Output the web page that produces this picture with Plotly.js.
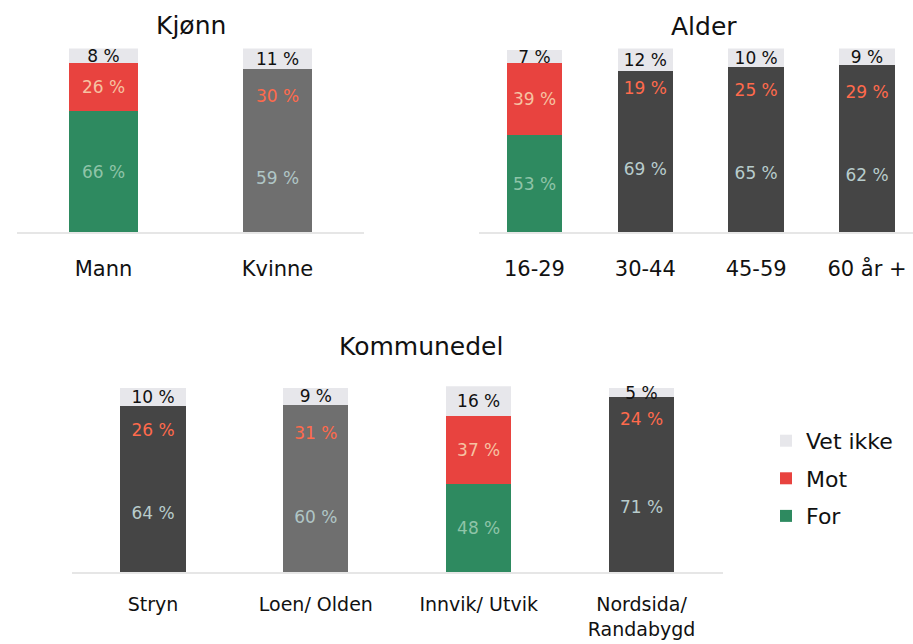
<!DOCTYPE html>
<html><head><meta charset="utf-8">
<script src="https://cdn.plot.ly/plotly-3.0.1.min.js"></script>
<style>html,body{margin:0;padding:0;background:#fff}#chart{width:913px;height:644px}</style>
</head><body><div id="chart"></div>
<script>
// ---- data ----
const seriesNames = ['For', 'Mot', 'Vet ikke'];
const panelTitles = ['Kjønn', 'Alder', 'Kommunedel'];

const kjonnCats = ['Mann', 'Kvinne'];
const kjonnFor = [66, 59];
const kjonnMot = [26, 30];
const kjonnVet = [8, 11];

const alderCats = ['16-29', '30-44', '45-59', '60 år +'];
const alderFor = [53, 69, 65, 62];
const alderMot = [39, 19, 25, 29];
const alderVet = [7, 12, 10, 9];

const kommCats = ['Stryn', 'Loen/ Olden', 'Innvik/ Utvik', 'Nordsida/<br>Randabygd'];
const kommFor = [64, 60, 48, 71];
const kommMot = [26, 31, 37, 24];
const kommVet = [10, 9, 16, 5];

// ---- styles ----
const kjonnFill = ['color', 'mid'];
const alderFill = ['color', 'dark', 'dark', 'dark'];
const kommFill = ['dark', 'mid', 'color', 'dark'];
const fills = {
  color: {For: '#2e8a60', Mot: '#e8433f', ForText: '#8fc4a8', MotText: '#f6c2a2'},
  mid:   {For: '#6f6f6f', Mot: '#6f6f6f', ForText: '#b0c6c6', MotText: '#ff6a4c'},
  dark:  {For: '#454545', Mot: '#454545', ForText: '#b8cccc', MotText: '#ff6a4c'}
};
const vetColor = '#e7e7eb';
const font = '"DejaVu Sans", sans-serif';

const panels = [
  {cats: kjonnCats, f: kjonnFor, m: kjonnMot, v: kjonnVet, fill: kjonnFill, xa: 'x', ya: 'y', w: 0.4},
  {cats: alderCats, f: alderFor, m: alderMot, v: alderVet, fill: alderFill, xa: 'x2', ya: 'y2', w: 0.5},
  {cats: kommCats, f: kommFor, m: kommMot, v: kommVet, fill: kommFill, xa: 'x3', ya: 'y3', w: 0.4}
];

const traces = [];
panels.forEach((p, i) => {
  const base = {
    type: 'bar', x: p.cats, xaxis: p.xa, yaxis: p.ya, width: p.w,
    texttemplate: '%{y} %', textposition: 'inside', insidetextanchor: 'middle',
    constraintext: 'none', textangle: 0, cliponaxis: false,
    showlegend: i === 0, hoverinfo: 'skip'
  };
  traces.push(Object.assign({}, base, {
    name: seriesNames[0], y: p.f, legendgroup: 'g1', legendrank: 3,
    marker: {color: p.fill.map(k => fills[k].For)},
    textfont: {family: font, size: 17, color: p.fill.map(k => fills[k].ForText)}
  }));
  traces.push(Object.assign({}, base, {
    name: seriesNames[1], y: p.m, legendgroup: 'g2', legendrank: 2,
    marker: {color: p.fill.map(k => fills[k].Mot)},
    textfont: {family: font, size: 17, color: p.fill.map(k => fills[k].MotText)}
  }));
  traces.push(Object.assign({}, base, {
    name: seriesNames[2], y: p.v, legendgroup: 'g3', legendrank: 1,
    marker: {color: vetColor},
    textfont: {family: font, size: 17, color: '#111111'}
  }));
});

const xBase = {
  type: 'category', showline: true, linecolor: '#e6e6e6', linewidth: 2,
  ticks: '', showgrid: false, zeroline: false, fixedrange: true,
  tickfont: {family: font, size: 21, color: '#111'}, ticklabelstandoff: 16
};
const yBase = {range: [0, 100], visible: false, fixedrange: true, showgrid: false, zeroline: false};

const layout = {
  width: 913, height: 644,
  margin: {l: 0, r: 0, t: 0, b: 0},
  paper_bgcolor: '#fff', plot_bgcolor: 'rgba(0,0,0,0)',
  barmode: 'stack', showlegend: true,
  font: {family: font, color: '#111'},
  xaxis: Object.assign({}, xBase, {domain: [0.0181, 0.3992], range: [-0.5, 1.5], anchor: 'y'}),
  yaxis: Object.assign({}, yBase, {domain: [0.639, 0.9247], anchor: 'x'}),
  xaxis2: Object.assign({}, xBase, {domain: [0.5247, 1], range: [-0.5, 3.415], anchor: 'y2'}),
  yaxis2: Object.assign({}, yBase, {domain: [0.639, 0.9247], anchor: 'x2'}),
  xaxis3: Object.assign({}, xBase, {domain: [0.0784, 0.7918], range: [-0.5, 3.5], anchor: 'y3',
    tickfont: {family: font, size: 19, color: '#111'}, ticklabelstandoff: 14}),
  yaxis3: Object.assign({}, yBase, {domain: [0.1118, 0.4003], range: [0, 101], anchor: 'x3'}),
  legend: {
    x: 0.839, y: 0.348, xanchor: 'left', yanchor: 'top',
    traceorder: 'grouped', tracegroupgap: 6,
    font: {family: font, size: 22, color: '#111'}, bgcolor: 'rgba(0,0,0,0)',
    itemwidth: 30
  },
  annotations: [
    {text: panelTitles[0], x: 191 / 913, y: 1 - 25 / 644},
    {text: panelTitles[1], x: 704 / 913, y: 1 - 26 / 644},
    {text: panelTitles[2], x: 421 / 913, y: 1 - 346 / 644}
  ].map(a => Object.assign(a, {xref: 'paper', yref: 'paper', showarrow: false,
    xanchor: 'center', yanchor: 'middle', font: {family: font, size: 25, color: '#111'}})),
  hovermode: false
};

Plotly.newPlot('chart', traces, layout, {staticPlot: true, displayModeBar: false});
</script>
</body></html>
